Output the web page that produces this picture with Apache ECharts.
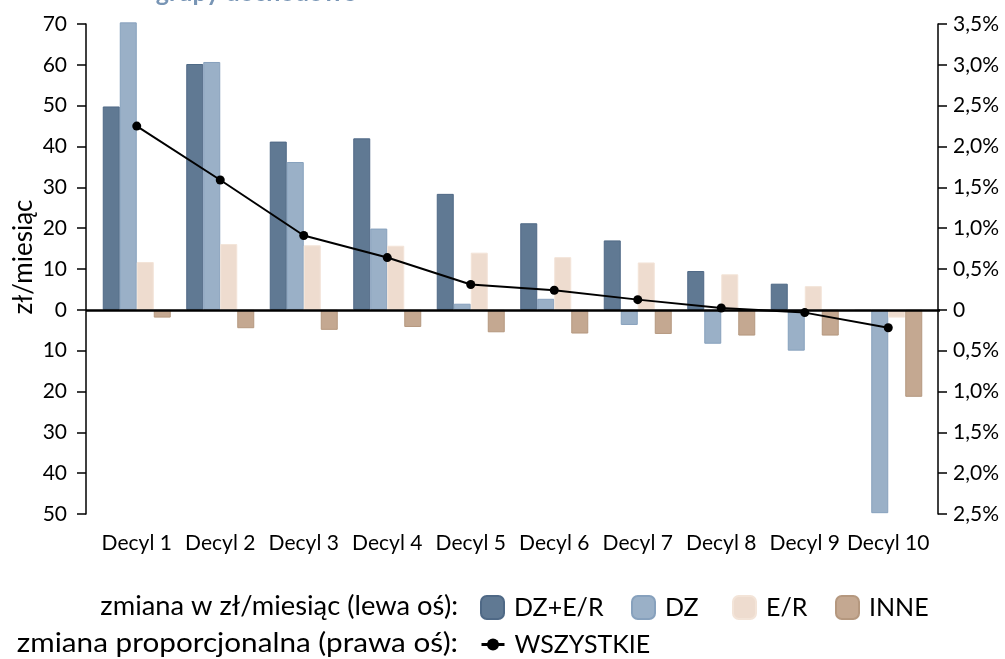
<!DOCTYPE html>
<html>
<head>
<meta charset="utf-8">
<title>grupy dochodowe</title>
<script src="https://cdn.jsdelivr.net/npm/echarts@6/dist/echarts.min.js"></script>
<style>
html, body { margin: 0; padding: 0; background: #fff; }
#chart { width: 1005px; height: 659px; }
</style>
</head>
<body>
<div id="chart"></div>
<script>
// 类目
const decyle = ['Decyl 1', 'Decyl 2', 'Decyl 3', 'Decyl 4', 'Decyl 5', 'Decyl 6', 'Decyl 7', 'Decyl 8', 'Decyl 9', 'Decyl 10']
// zmiana w zł/miesiąc (lewa oś)
const dzEr = [49.8, 60.2, 41.2, 42.0, 28.4, 21.2, 17.0, 9.5, 6.4, -0.3]
const dz = [70.4, 60.7, 36.2, 19.9, 1.5, 2.7, -3.7, -8.3, -10.0, -49.8]
const er = [11.7, 16.1, 15.8, 15.7, 14.0, 12.9, 11.6, 8.7, 5.8, -1.9]
const inne = [-1.9, -4.5, -4.9, -4.2, -5.5, -5.8, -5.9, -6.3, -6.3, -21.3]
// zmiana proporcjonalna (prawa oś), %
const wszystkie = [2.25, 1.59, 0.91, 0.64, 0.31, 0.24, 0.125, 0.022, -0.034, -0.22]

const font = 'Lato'
const chartInstance = echarts.init(document.getElementById('chart'))

// 柱子的公共样式
const bar = (name, data, fill, border) => ({
  name: name,
  type: 'bar',
  data: data,
  barWidth: 17,
  barGap: '0%',
  itemStyle: { color: fill, borderColor: border, borderWidth: 1 }
})

// 单个图例
const legendItem = (name, left, top, h) => ({
  data: [name],
  left: left,
  top: top,
  padding: 0,
  itemWidth: 23,
  itemHeight: h,
  selectedMode: false,
  textStyle: { fontSize: 25, fontFamily: font, color: '#000', padding: [0, 0, 0, 5] }
})

const axisStyle = { color: '#000', width: 1.5 }

const option = {
  animation: false,
  textStyle: { fontFamily: font },
  grid: { left: 95, right: 75, top: 24, bottom: 145 },
  legend: [
    legendItem('DZ+E/R', 480, 595, 23),
    legendItem('DZ', 631, 595, 23),
    legendItem('E/R', 732, 595, 23),
    legendItem('INNE', 835, 595, 23),
    Object.assign(legendItem('WSZYSTKIE', 480, 632, 15), { lineStyle: { width: 3 } })
  ],
  xAxis: {
    type: 'category',
    data: decyle,
    axisLine: { show: false, onZero: false },
    axisTick: { show: false },
    axisLabel: { interval: 0, fontSize: 21, color: '#000', fontFamily: font, margin: 19 }
  },
  yAxis: [
    {
      type: 'value',
      min: -50,
      max: 70,
      interval: 10,
      offset: 9,
      axisLine: { show: true, lineStyle: axisStyle },
      axisTick: { show: true, length: 9, lineStyle: axisStyle },
      axisLabel: {
        fontSize: 21, color: '#000', fontFamily: font, margin: 19,
        formatter: v => String(Math.abs(v))
      },
      splitLine: { show: false }
    },
    {
      type: 'value',
      position: 'right',
      min: -2.5,
      max: 3.5,
      interval: 0.5,
      offset: 8,
      axisLine: { show: true, lineStyle: axisStyle },
      axisTick: { show: true, length: 9, lineStyle: axisStyle },
      axisLabel: {
        fontSize: 21, color: '#000', fontFamily: font, margin: 15,
        formatter: v => v === 0 ? '0' : Math.abs(v).toFixed(1).replace('.', ',') + '%'
      },
      splitLine: { show: false }
    }
  ],
  series: [
    Object.assign(bar('DZ+E/R', dzEr, '#607993', '#4f6986'), {
      // 零线
      markLine: {
        silent: true,
        symbol: 'none',
        label: { show: false },
        lineStyle: { color: '#000', width: 2.5, type: 'solid' },
        data: [[{ x: 86, yAxis: 0 }, { x: 940, yAxis: 0 }]]
      }
    }),
    Object.assign(bar('DZ', dz, '#9ab0c7', '#87a1bd'), { clip: false }),
    bar('E/R', er, '#eedccf', '#f3e4d8'),
    bar('INNE', inne, '#c4a891', '#b5987f'),
    {
      name: 'WSZYSTKIE',
      type: 'line',
      yAxisIndex: 1,
      data: wszystkie,
      z: 5,
      symbol: 'circle',
      symbolSize: 9,
      itemStyle: { color: '#000' },
      lineStyle: { color: '#000', width: 2 }
    }
  ],
  graphic: [
    {
      type: 'text', x: 256, y: -7,
      style: { text: 'grupy dochodowe', fill: '#7895b5', font: 'bold 25px Lato', textAlign: 'center', textVerticalAlign: 'middle', align: 'center', verticalAlign: 'middle' }
    },
    {
      type: 'text', x: 24, y: 257, rotation: Math.PI / 2,
      style: { text: 'zł/miesiąc', fill: '#000', font: '26px Lato', textAlign: 'center', textVerticalAlign: 'middle', align: 'center', verticalAlign: 'middle' }
    },
    {
      type: 'text', x: 458, y: 607, scaleX: 1.05,
      style: { text: 'zmiana w zł/miesiąc (lewa oś):', fill: '#000', font: '26px Lato', textAlign: 'right', textVerticalAlign: 'middle', align: 'right', verticalAlign: 'middle' }
    },
    {
      type: 'text', x: 458, y: 643, scaleX: 1.1,
      style: { text: 'zmiana proporcjonalna (prawa oś):', fill: '#000', font: '27px Lato', textAlign: 'right', textVerticalAlign: 'middle', align: 'right', verticalAlign: 'middle' }
    }
  ]
}

chartInstance.setOption(option)
</script>
</body>
</html>
